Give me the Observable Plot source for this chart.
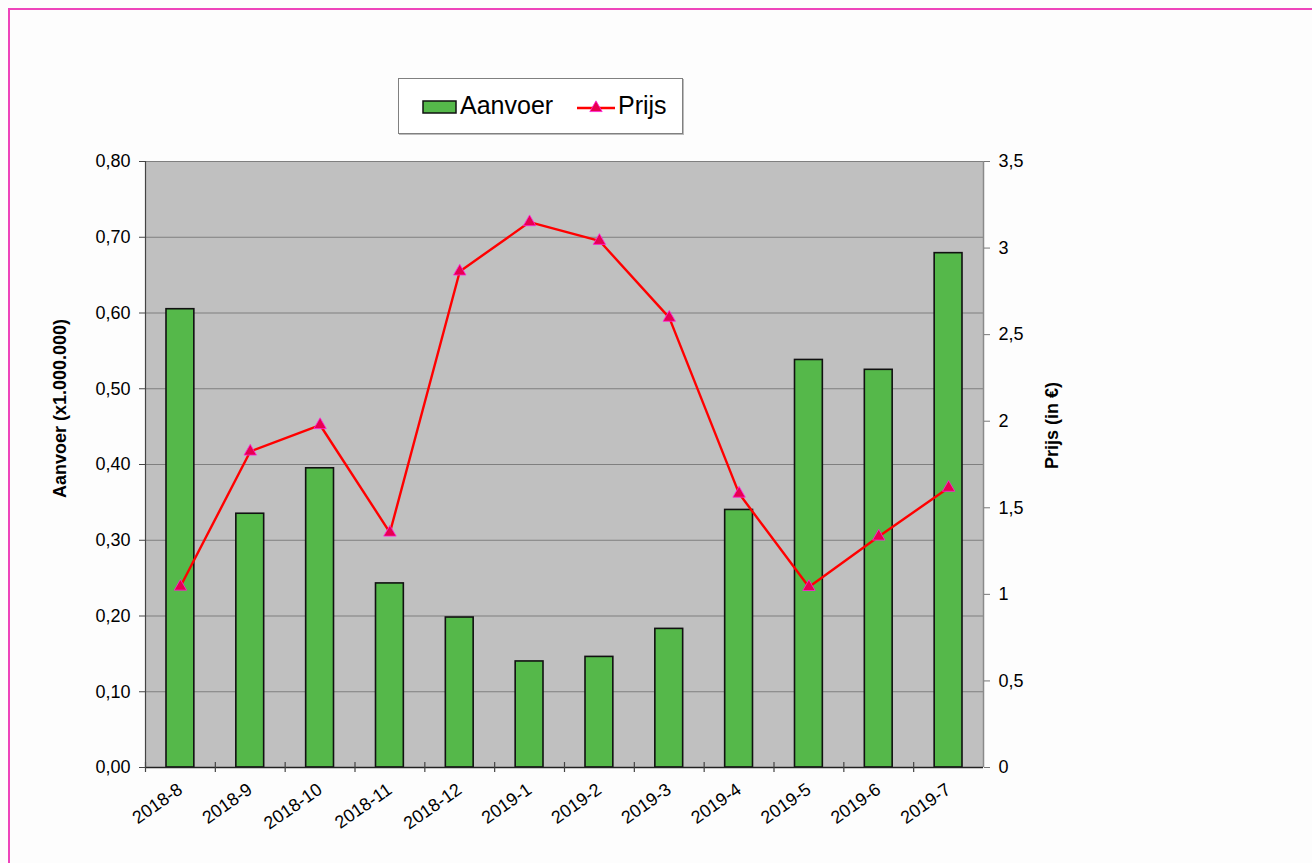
<!DOCTYPE html>
<html>
<head>
<meta charset="utf-8">
<script src="https://cdn.jsdelivr.net/npm/d3@7"></script>
<script src="https://cdn.jsdelivr.net/npm/@observablehq/plot@0.6"></script>
<style>
  html, body { margin: 0; padding: 0; background: #fdfdfd; }
  #wrap { position: relative; width: 1312px; height: 863px; overflow: hidden; font-family: "Liberation Sans", Arial, sans-serif; }
  #frameline { position: absolute; left: 8px; top: 8px; right: -10px; bottom: -10px; border-top: 2px solid #EE44BB; border-left: 2px solid #EE44BB; }
  #legend { position: absolute; left: 398px; top: 78px; width: 283px; height: 54px; background: #fff; border: 1px solid #808080; box-shadow: 1px 1px 0 #bbb; }
  #legend svg { position: absolute; left: 0; top: 0; }
  #chart { position: absolute; left: 0; top: 0; }
</style>
</head>
<body>
<div id="wrap">
  <div id="frameline"></div>
  <div id="chart"></div>
  <div id="legend"></div>
</div>
<script>
const categories = ["2018-8","2018-9","2018-10","2018-11","2018-12","2019-1","2019-2","2019-3","2019-4","2019-5","2019-6","2019-7"];
const aanvoer = [0.605, 0.335, 0.395, 0.243, 0.198, 0.140, 0.146, 0.183, 0.340, 0.538, 0.525, 0.679];
const prijs = [1.045, 1.825, 1.978, 1.357, 2.865, 3.150, 3.042, 2.598, 1.582, 1.043, 1.334, 1.616];
const leftTicks = [0, 0.1, 0.2, 0.3, 0.4, 0.5, 0.6, 0.7, 0.8];
const rightTicks = [0, 0.5, 1, 1.5, 2, 2.5, 3, 3.5];
const leftTitle = "Aanvoer (x1.000.000)";
const rightTitle = "Prijs (in €)";
const legendLabels = ["Aanvoer", "Prijs"];

const W = 1312, H = 863, mL = 145, mR = 329, mT = 161, mB = 96;
const bw = (W - mL - mR) / categories.length;
const k = 0.8 / 3.5; // right axis (price) mapped onto the left scale
const data = categories.map((c, i) => ({cat: c, aanvoer: aanvoer[i], prijs: prijs[i]}));
const fmtL = v => v.toFixed(2).replace(".", ",");
const fmtR = v => String(Math.round((v / k) * 10) / 10).replace(".", ",");
const font = "'Liberation Sans', Arial, sans-serif";

const chart = Plot.plot({
  width: W, height: H,
  marginLeft: mL, marginRight: mR, marginTop: mT, marginBottom: mB,
  style: {fontFamily: font, fontSize: "18px", background: "transparent", color: "#000", overflow: "visible"},
  x: {type: "band", domain: categories, padding: 0, round: false},
  y: {domain: [0, 0.8]},
  marks: [
    Plot.frame({fill: "#C0C0C0", stroke: null}),
    Plot.gridY(leftTicks, {stroke: "#7f7f7f", strokeOpacity: 1, strokeWidth: 1.2}),
    Plot.ruleX([categories[categories.length - 1]], {dx: bw / 2, y1: 0, y2: 0.8, stroke: "#8a8a8a", strokeWidth: 1.5}),
    Plot.barY(data, {x: "cat", y: "aanvoer", fill: "#55B84A", stroke: "#111", strokeWidth: 1.6, insetLeft: 21, insetRight: 21}),
    Plot.ruleX([categories[0]], {dx: -bw / 2, y1: 0, y2: 0.8, stroke: "#444", strokeWidth: 1.2}),
    Plot.ruleY([0], {stroke: "#222", strokeWidth: 1.5}),
    Plot.ruleX(categories, {dx: -bw / 2, y1: 0, y2: 0, insetTop: -5, insetBottom: -5, stroke: "#444", strokeWidth: 1.2}),
    Plot.axisY(leftTicks, {anchor: "left", label: null, tickSize: 6, tickPadding: 9, tickFormat: fmtL, fontSize: 18, stroke: "#444"}),
    Plot.axisY(rightTicks.map(v => v * k), {anchor: "right", label: null, tickSize: 6, tickPadding: 9, tickFormat: fmtR, fontSize: 18, stroke: "#777"}),
    Plot.axisX({label: null, tickRotate: -35, tickSize: 0, tickPadding: 20, fontSize: 18}),
    Plot.line(data, {x: "cat", y: d => d.prijs * k, stroke: "#FF0000", strokeWidth: 2.4}),
    Plot.dot(data, {x: "cat", y: d => d.prijs * k, symbol: "triangle", r: 4.6, fill: "#E8004F", stroke: "#FF22DD", strokeWidth: 0.8}),
    Plot.text([leftTitle], {frameAnchor: "left", textAnchor: "middle", dx: -85, dy: -56, rotate: -90, fontWeight: "bold", fontSize: 18}),
    Plot.text([rightTitle], {frameAnchor: "right", textAnchor: "middle", dx: 69, dy: -39, rotate: -90, fontWeight: "bold", fontSize: 18})
  ]
});
document.getElementById("chart").appendChild(chart);

// Legend
const lg = d3.select("#legend").append("svg").attr("width", 283).attr("height", 54);
lg.append("rect").attr("x", 24).attr("y", 22).attr("width", 33).attr("height", 12)
  .attr("fill", "#55B84A").attr("stroke", "#111").attr("stroke-width", 1.5);
lg.append("text").attr("x", 61).attr("y", 35).attr("font-family", font).attr("font-size", 25).text(legendLabels[0]);
lg.append("line").attr("x1", 178).attr("x2", 216).attr("y1", 29).attr("y2", 29).attr("stroke", "#FF0000").attr("stroke-width", 2.4);
lg.append("path").attr("d", d3.symbol(d3.symbolTriangle, 66)()).attr("transform", "translate(197,29)")
  .attr("fill", "#E8004F").attr("stroke", "#FF22DD").attr("stroke-width", 0.8);
lg.append("text").attr("x", 219).attr("y", 35).attr("font-family", font).attr("font-size", 25).text(legendLabels[1]);
</script>
</body>
</html>
